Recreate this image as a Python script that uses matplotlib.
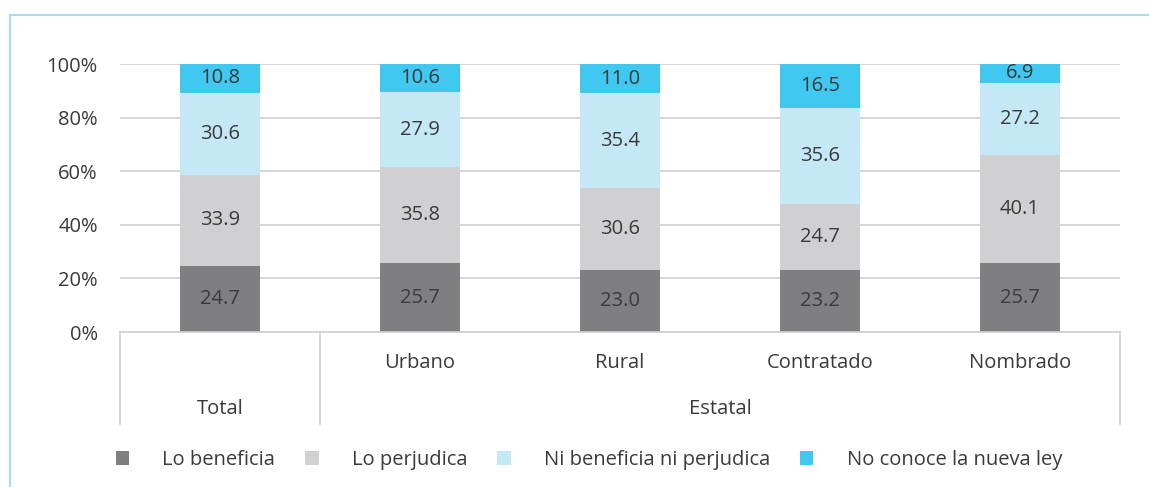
import matplotlib.pyplot as plt
from matplotlib.patches import Patch
from matplotlib.lines import Line2D

plt.rcParams['font.family'] = ['Open Sans', 'DejaVu Sans']

categories = ["Total", "Urbano", "Rural", "Contratado", "Nombrado"]
groups = [("Total", 0, 0), ("Estatal", 1, 4)]
series_names = ["Lo beneficia", "Lo perjudica", "Ni beneficia ni perjudica", "No conoce la nueva ley"]
lo_beneficia = [24.7, 25.7, 23.0, 23.2, 25.7]
lo_perjudica = [33.9, 35.8, 30.6, 24.7, 40.1]
ni_ni = [30.6, 27.9, 35.4, 35.6, 27.2]
no_conoce = [10.8, 10.6, 11.0, 16.5, 6.9]
colors = ["#7f7f83", "#d0d0d2", "#c5e8f7", "#40c8f0"]
text_color = "#3a3a3a"
fs = 14.5

series = [lo_beneficia, lo_perjudica, ni_ni, no_conoce]
totals = [sum(v) for v in zip(*series)]

W, H = 1149, 487
fig = plt.figure(figsize=(W / 100, H / 100), dpi=100)
ax = fig.add_axes([120 / W, (H - 332) / H, 1000 / W, 268 / H])

x = list(range(len(categories)))
bottom = [0.0] * len(categories)
for vals, col in zip(series, colors):
    pct = [v / t * 100 for v, t in zip(vals, totals)]
    bars = ax.bar(x, pct, 0.4, bottom=bottom, color=col, zorder=2)
    for b, v, p, base in zip(bars, vals, pct, bottom):
        ax.text(b.get_x() + b.get_width() / 2, base + p / 2, f"{v:.1f}",
                ha="center", va="center", fontsize=fs, color=text_color, zorder=3)
    bottom = [b + p for b, p in zip(bottom, pct)]

ax.set_xlim(-0.5, 4.5)
ax.set_ylim(0, 100)
ax.set_yticks(range(0, 101, 20))
ax.set_yticklabels([f"{t}%" for t in range(0, 101, 20)], fontsize=fs, color=text_color)
ax.tick_params(axis="y", length=0, pad=16)
ax.set_xticks([])
ax.grid(axis="y", color="#d0d0d0", linewidth=1.2, zorder=0)
for s in ax.spines.values():
    s.set_visible(False)

# multi-level category axis
trans = ax.get_xaxis_transform()
ax.add_line(Line2D([-0.5, 4.5], [0, 0], transform=trans, color="#d0d0d0", lw=1.2, clip_on=False))
for xv in [-0.5, 0.5, 4.5]:
    ax.add_line(Line2D([xv, xv], [0, -92 / 268], transform=trans, color="#d0d0d0",
                       lw=1.2, clip_on=False))
for i, c in enumerate(categories[1:], start=1):
    ax.text(i, -31 / 268, c, transform=trans, ha="center", va="center",
            fontsize=fs, color=text_color)
for name, a, b in groups:
    ax.text((a + b) / 2, -77 / 268, name, transform=trans, ha="center", va="center",
            fontsize=fs, color=text_color)

handles = [Patch(facecolor=c, edgecolor="none") for c in colors]
fig.legend(handles, series_names, loc="center", ncol=4, frameon=False,
           bbox_to_anchor=(589 / W, (H - 460) / H), fontsize=fs,
           handlelength=0.65, handleheight=0.65, handletextpad=1.65,
           columnspacing=1.5, labelcolor=text_color)

# light blue frame
fig.add_artist(Line2D([10 / W, 1], [(H - 15) / H] * 2, transform=fig.transFigure,
                      color="#a8dcf0", lw=1.5))
fig.add_artist(Line2D([10 / W] * 2, [0, (H - 15) / H], transform=fig.transFigure,
                      color="#a8dcf0", lw=1.5))

fig.savefig("out.png", dpi=100)
